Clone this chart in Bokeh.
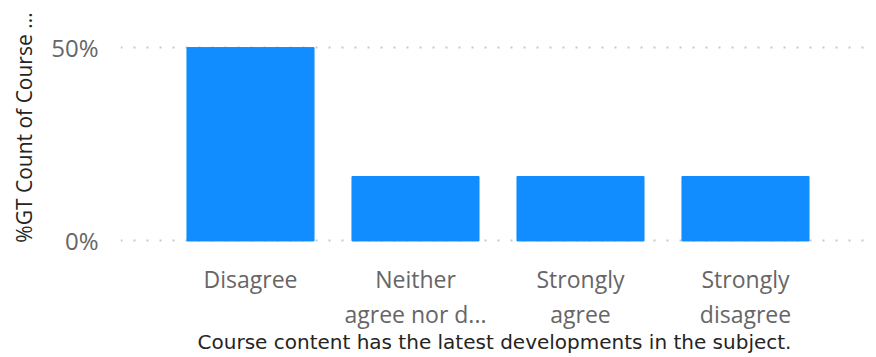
from bokeh.plotting import figure
from bokeh.models import Range1d, FixedTicker, LinearAxis, ColumnDataSource
from bokeh.embed import file_html
from bokeh.resources import INLINE

categories = ["Disagree", "Neither agree nor d...", "Strongly agree", "Strongly disagree"]
line1 = ["Disagree", "Neither", "Strongly", "Strongly"]
line2 = ["", "agree nor d...", "agree", "disagree"]
values = [0.5, 1/6, 1/6, 1/6]
y_ticks = [0, 0.5]
y_labels = ["0%", "50%"]
x_title = "Course content has the latest developments in the subject."
y_title = "%GT Count of Course ..."

xs = list(range(len(categories)))
src = ColumnDataSource(dict(x=xs, top=values, cat=categories))

p = figure(width=868, height=356, output_backend="svg", toolbar_location=None,
           x_range=Range1d(-0.7879, 3.7455), y_range=Range1d(-0.0091, 0.5959),
           min_border_top=10, min_border_right=0, min_border_left=120, min_border_bottom=0)
p.outline_line_color = None
p.background_fill_color = "white"

p.vbar(x="x", top="top", width=0.77, bottom=0, source=src, color="#118DFF")

# y axis
p.yaxis.ticker = FixedTicker(ticks=y_ticks)
p.yaxis.major_label_overrides = {t: l for t, l in zip(y_ticks, y_labels)}
p.yaxis.axis_line_color = None
p.yaxis.major_tick_line_color = None
p.yaxis.minor_tick_line_color = None
p.yaxis.major_tick_out = 0
p.yaxis.major_label_text_font = "Open Sans"
p.yaxis.major_label_text_font_size = "24px"
p.yaxis.major_label_text_color = "#666666"
p.yaxis.major_label_standoff = 22
p.yaxis.axis_label = y_title
p.yaxis.axis_label_text_font = "Open Sans"
p.yaxis.axis_label_text_font_style = "normal"
p.yaxis.axis_label_text_font_size = "21px"
p.yaxis.axis_label_text_color = "#252423"
p.yaxis.axis_label_standoff = 10

p.ygrid.ticker = FixedTicker(ticks=y_ticks)
p.ygrid.grid_line_color = "#C8C8C8"
p.ygrid.grid_line_dash = "2 11"
p.ygrid.grid_line_width = 2
p.xgrid.grid_line_color = None

# x axis first line
p.xaxis.ticker = FixedTicker(ticks=xs)
p.xaxis.major_label_overrides = {x: l for x, l in zip(xs, line1)}
p.xaxis.axis_line_color = None
p.xaxis.major_tick_line_color = None
p.xaxis.minor_tick_line_color = None
p.xaxis.major_tick_out = 0
p.xaxis.major_label_text_font = "Open Sans"
p.xaxis.major_label_text_font_size = "23px"
p.xaxis.major_label_text_color = "#666666"
p.xaxis.major_label_standoff = 18

ax2 = LinearAxis(ticker=FixedTicker(ticks=xs),
                 major_label_overrides={x: l for x, l in zip(xs, line2)})
ax2.axis_line_color = None
ax2.major_tick_line_color = None
ax2.minor_tick_line_color = None
ax2.major_tick_out = 0
ax2.major_tick_in = 0
ax2.major_label_text_font = "Open Sans"
ax2.major_label_text_font_size = "23px"
ax2.major_label_text_color = "#666666"
ax2.major_label_standoff = 0
ax2.axis_label = x_title
ax2.axis_label_text_font = "DejaVu Sans"
ax2.axis_label_text_font_style = "normal"
ax2.axis_label_text_font_size = "20px"
ax2.axis_label_text_color = "#252423"
ax2.axis_label_standoff = -3
p.add_layout(ax2, "below")

open("out.html", "w").write(file_html(p, INLINE))
